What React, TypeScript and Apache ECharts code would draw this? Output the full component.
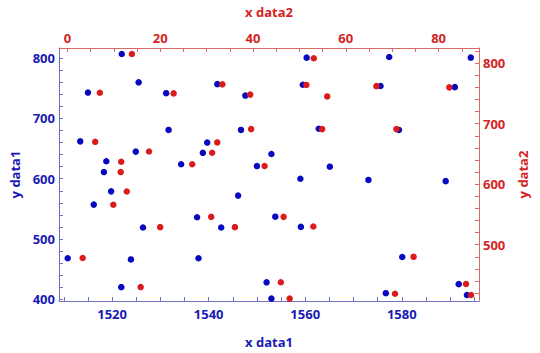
import React, { useEffect, useRef } from "react";
import * as echarts from "echarts";

// Series 1 (blue): [x data1, y data1]
const data1X = [1522.0, 1525.5, 1515.0, 1531.2, 1531.7, 1513.4, 1539.7, 1524.9, 1538.8, 1518.8, 1534.3, 1518.3, 1519.8, 1516.2, 1537.6, 1526.4, 1510.8, 1523.9, 1537.9, 1521.9, 1560.3, 1541.8, 1559.5, 1547.6, 1546.7, 1562.8, 1553.0, 1550.0, 1565.1, 1559.0, 1546.1, 1553.8, 1542.6, 1559.1, 1552.0, 1553.0, 1577.4, 1594.3, 1575.6, 1591.0, 1579.4, 1573.1, 1589.1, 1580.1, 1591.8, 1593.5, 1576.7];
const data1Y = [807, 760, 743, 742, 681, 662, 660, 645, 643, 629, 624, 611, 579, 557, 536, 519, 468, 466, 468, 420, 801, 757, 756, 738, 681, 683, 641, 621, 620, 600, 572, 537, 519, 520, 428, 401, 802, 801, 754, 752, 681, 598, 596, 470, 425, 407, 410];

// Series 2 (red): [x data2, y data2]
const data2X = [13.9, 7.0, 22.9, 6.0, 17.6, 31.2, 11.6, 26.9, 11.5, 12.8, 9.9, 31.0, 20.0, 3.3, 15.8, 53.1, 33.4, 51.5, 39.4, 56.0, 39.6, 54.9, 32.3, 42.5, 46.6, 36.1, 53.0, 46.0, 47.9, 66.6, 82.3, 70.9, 74.6, 85.9, 70.6, 87.0];
const data2Y = [815, 751, 750, 670, 654, 652, 637, 633, 620, 588, 566, 546, 529, 478, 430, 808, 765, 764, 748, 745, 691, 691, 669, 630, 546, 529, 530, 438, 411, 762, 760, 691, 480, 435, 419, 417];

// Tick labels
const xLabels1 = [1520, 1540, 1560, 1580];
const xLabels2 = [0, 20, 40, 60, 80];
const yLabels1 = [400, 500, 600, 700, 800];
const yLabels2 = [500, 600, 700, 800];

const range = (a: number, b: number, s: number) => {
  const out: number[] = [];
  for (let v = a; v <= b + 1e-9; v += s) out.push(v);
  return out;
};
const xTicks1 = range(1510, 1595, 5);
const xTicks2 = range(0, 85, 5);
const yTicks1 = range(400, 800, 20);
const yTicks2 = range(420, 820, 20);

const BLUE = "#0808c0";
const BLUE_TXT = "#1a1ab4";
const BLUE_LINE = "#7272c4";
const RED = "#dc1c1c";
const RED_TXT = "#d42424";
const RED_LINE = "#d86a6a";
const FONT = "'Open Sans', 'DejaVu Sans', sans-serif";

export default function App() {
  const ref = useRef<HTMLDivElement>(null);
  useEffect(() => {
    if (!ref.current) return;
    const chart = echarts.init(ref.current, null, { renderer: "svg" });
    const axisCommon = (txt: string, lineColor: string) => ({
      type: "value" as const,
      nameLocation: "middle" as const,
      nameTextStyle: { color: txt, fontSize: 13, fontWeight: "bold", fontFamily: FONT },
      axisLine: { show: true, onZero: false, lineStyle: { color: lineColor, width: 1 } },
      axisLabel: {
        color: txt,
        fontSize: 13,
        fontWeight: "bold",
        fontFamily: FONT,
        formatter: (v: number) => String(v),
      },
      axisTick: { show: true, inside: true, length: 4, lineStyle: { color: lineColor } },
      splitLine: { show: false },
    });
    const a1 = axisCommon(BLUE_TXT, BLUE_LINE);
    const a2 = axisCommon(RED_TXT, RED_LINE);
    chart.setOption({
      animation: false,
      backgroundColor: "#ffffff",
      grid: { left: 47, right: 61, top: 46, bottom: 41, containLabel: false },
      xAxis: [
        {
          ...a1,
          position: "bottom",
          min: 1509,
          max: 1596,
          name: "x data1",
          nameGap: 34,
          axisLabel: { ...a1.axisLabel, margin: 6, customValues: xLabels1 },
          axisTick: { ...a1.axisTick, customValues: xTicks1 },
        },
        {
          ...a2,
          position: "top",
          min: -1.8,
          max: 88.7,
          name: "x data2",
          nameGap: 30,
          axisLabel: { ...a2.axisLabel, margin: 4, customValues: xLabels2 },
          axisTick: { ...a2.axisTick, customValues: xTicks2 },
        },
      ],
      yAxis: [
        {
          ...a1,
          position: "left",
          min: 397,
          max: 817,
          name: "y data1",
          nameGap: 38,
          axisLabel: { ...a1.axisLabel, margin: 4, customValues: yLabels1 },
          axisTick: { ...a1.axisTick, customValues: yTicks1 },
        },
        {
          ...a2,
          position: "right",
          min: 407,
          max: 825,
          name: "y data2",
          nameGap: 37,
          axisLabel: { ...a2.axisLabel, margin: 4, customValues: yLabels2 },
          axisTick: { ...a2.axisTick, customValues: yTicks2 },
        },
      ],
      series: [
        {
          type: "scatter",
          xAxisIndex: 0,
          yAxisIndex: 0,
          symbolSize: 6.5,
          itemStyle: { color: BLUE, opacity: 1 },
          data: data1X.map((x, i) => [x, data1Y[i]]),
        },
        {
          type: "scatter",
          xAxisIndex: 1,
          yAxisIndex: 1,
          symbolSize: 6.5,
          itemStyle: { color: RED, opacity: 1 },
          data: data2X.map((x, i) => [x, data2Y[i]]),
        },
      ],
    });
    return () => chart.dispose();
  }, []);
  return (
    <div
      ref={ref}
      style={{ position: "fixed", left: 0, top: 0, width: 540, height: 353 }}
    />
  );
}
